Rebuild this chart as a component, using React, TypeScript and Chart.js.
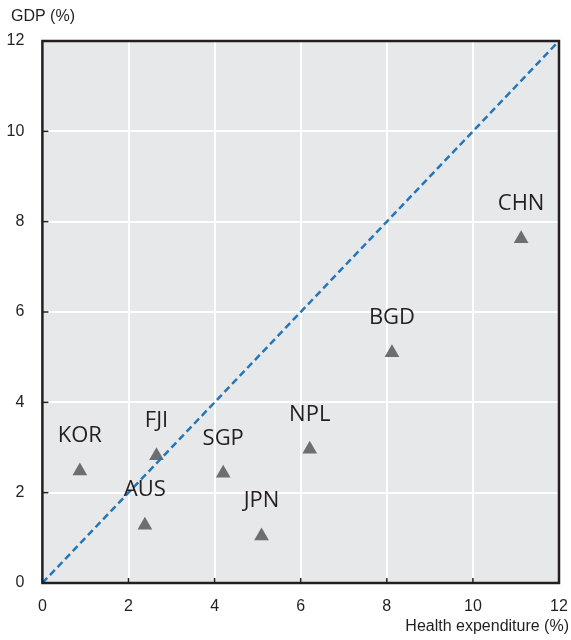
import React, { useEffect, useRef } from "react";
import { Chart, registerables } from "chart.js";

Chart.register(...registerables);

const codes = ["KOR", "FJI", "AUS", "SGP", "JPN", "NPL", "BGD", "CHN"];
const healthExp = [0.87, 2.65, 2.38, 4.2, 5.09, 6.21, 8.12, 11.12];
const gdpGrowth = [2.48, 2.82, 1.28, 2.43, 1.04, 2.96, 5.1, 7.62];
const diagonalX = [0, 12];
const diagonalY = [0, 12];
const axisMin = 0;
const axisMax = 12;
const axisStep = 2;
const xTitle = "Health expenditure (%)";
const yTitle = "GDP (%)";

const DARK = "#231f20";
const TICK_FONT = "'Liberation Sans', Arial, sans-serif";

const decorPlugin = {
  id: "decor",
  beforeDraw(chart: any) {
    const { ctx, chartArea: a } = chart;
    ctx.save();
    ctx.fillStyle = "#e7e8ea";
    ctx.fillRect(a.left, a.top, a.right - a.left, a.bottom - a.top);
    ctx.restore();
  },
  afterDatasetsDraw(chart: any) {
    const { ctx, chartArea: a } = chart;
    const xs = chart.scales.x;
    const ys = chart.scales.y;
    ctx.save();
    // frame
    ctx.strokeStyle = DARK;
    ctx.lineWidth = 2.5;
    ctx.strokeRect(a.left, a.top, a.right - a.left, a.bottom - a.top);
    // inner ticks
    ctx.lineWidth = 1.5;
    for (let v = axisMin; v <= axisMax; v += axisStep) {
      const px = xs.getPixelForValue(v);
      ctx.beginPath();
      ctx.moveTo(px, a.bottom);
      ctx.lineTo(px, a.bottom - 5);
      ctx.stroke();
      const py = ys.getPixelForValue(v);
      ctx.beginPath();
      ctx.moveTo(a.left, py);
      ctx.lineTo(a.left + 6, py);
      ctx.stroke();
    }
    // point labels
    const meta = chart.getDatasetMeta(1);
    ctx.fillStyle = DARK;
    ctx.font = "22px 'Open Sans', sans-serif";
    ctx.textAlign = "center";
    ctx.textBaseline = "middle";
    meta.data.forEach((el: any, i: number) => {
      ctx.fillText(codes[i], el.x, el.y - 35);
    });
    // axis titles
    ctx.font = "16px " + TICK_FONT;
    ctx.fillStyle = DARK;
    ctx.textAlign = "left";
    ctx.textBaseline = "middle";
    ctx.fillText(yTitle, 11, 17);
    ctx.textAlign = "right";
    ctx.fillText(xTitle, 569, 627);
    ctx.restore();
  },
};

export default function App() {
  const ref = useRef<HTMLCanvasElement | null>(null);
  useEffect(() => {
    if (!ref.current) return;
    const chart = new Chart(ref.current, {
      type: "scatter",
      data: {
        datasets: [
          {
            type: "line",
            data: diagonalX.map((x, i) => ({ x, y: diagonalY[i] })),
            borderColor: "#2276bc",
            borderWidth: 2.5,
            borderDash: [7, 4],
            pointRadius: 0,
            fill: false,
          } as any,
          {
            data: healthExp.map((x, i) => ({ x, y: gdpGrowth[i] })),
            pointStyle: "triangle",
            pointRadius: 8.5,
            backgroundColor: "#6d6e70",
            borderColor: "#6d6e70",
            borderWidth: 0,
          },
        ],
      },
      options: {
        responsive: false,
        animation: false,
        layout: { padding: { top: 41, right: 12, left: 0, bottom: 0 } },
        plugins: {
          legend: { display: false },
          tooltip: { enabled: false },
        },
        scales: {
          x: {
            type: "linear",
            min: axisMin,
            max: axisMax,
            afterFit: (s: any) => {
              s.height = 57;
              s.paddingLeft = 0;
              s.paddingRight = 0;
            },
            ticks: {
              stepSize: axisStep,
              padding: 14,
              color: DARK,
              font: { family: TICK_FONT, size: 16 },
            },
            grid: { color: "#ffffff", lineWidth: 2, drawTicks: false },
            border: { display: false },
          },
          y: {
            type: "linear",
            min: axisMin,
            max: axisMax,
            afterFit: (s: any) => {
              s.width = 42.4;
              s.paddingTop = 0;
              s.paddingBottom = 0;
            },
            ticks: {
              stepSize: axisStep,
              padding: 18,
              color: DARK,
              font: { family: TICK_FONT, size: 16 },
            },
            grid: { color: "#ffffff", lineWidth: 2, drawTicks: false },
            border: { display: false },
          },
        },
      },
      plugins: [decorPlugin],
    });
    return () => chart.destroy();
  }, []);
  return (
    <div style={{ position: "fixed", left: 0, top: 0, width: 571, height: 640 }}>
      <canvas ref={ref} width={571} height={640} style={{ display: "block" }} />
    </div>
  );
}
